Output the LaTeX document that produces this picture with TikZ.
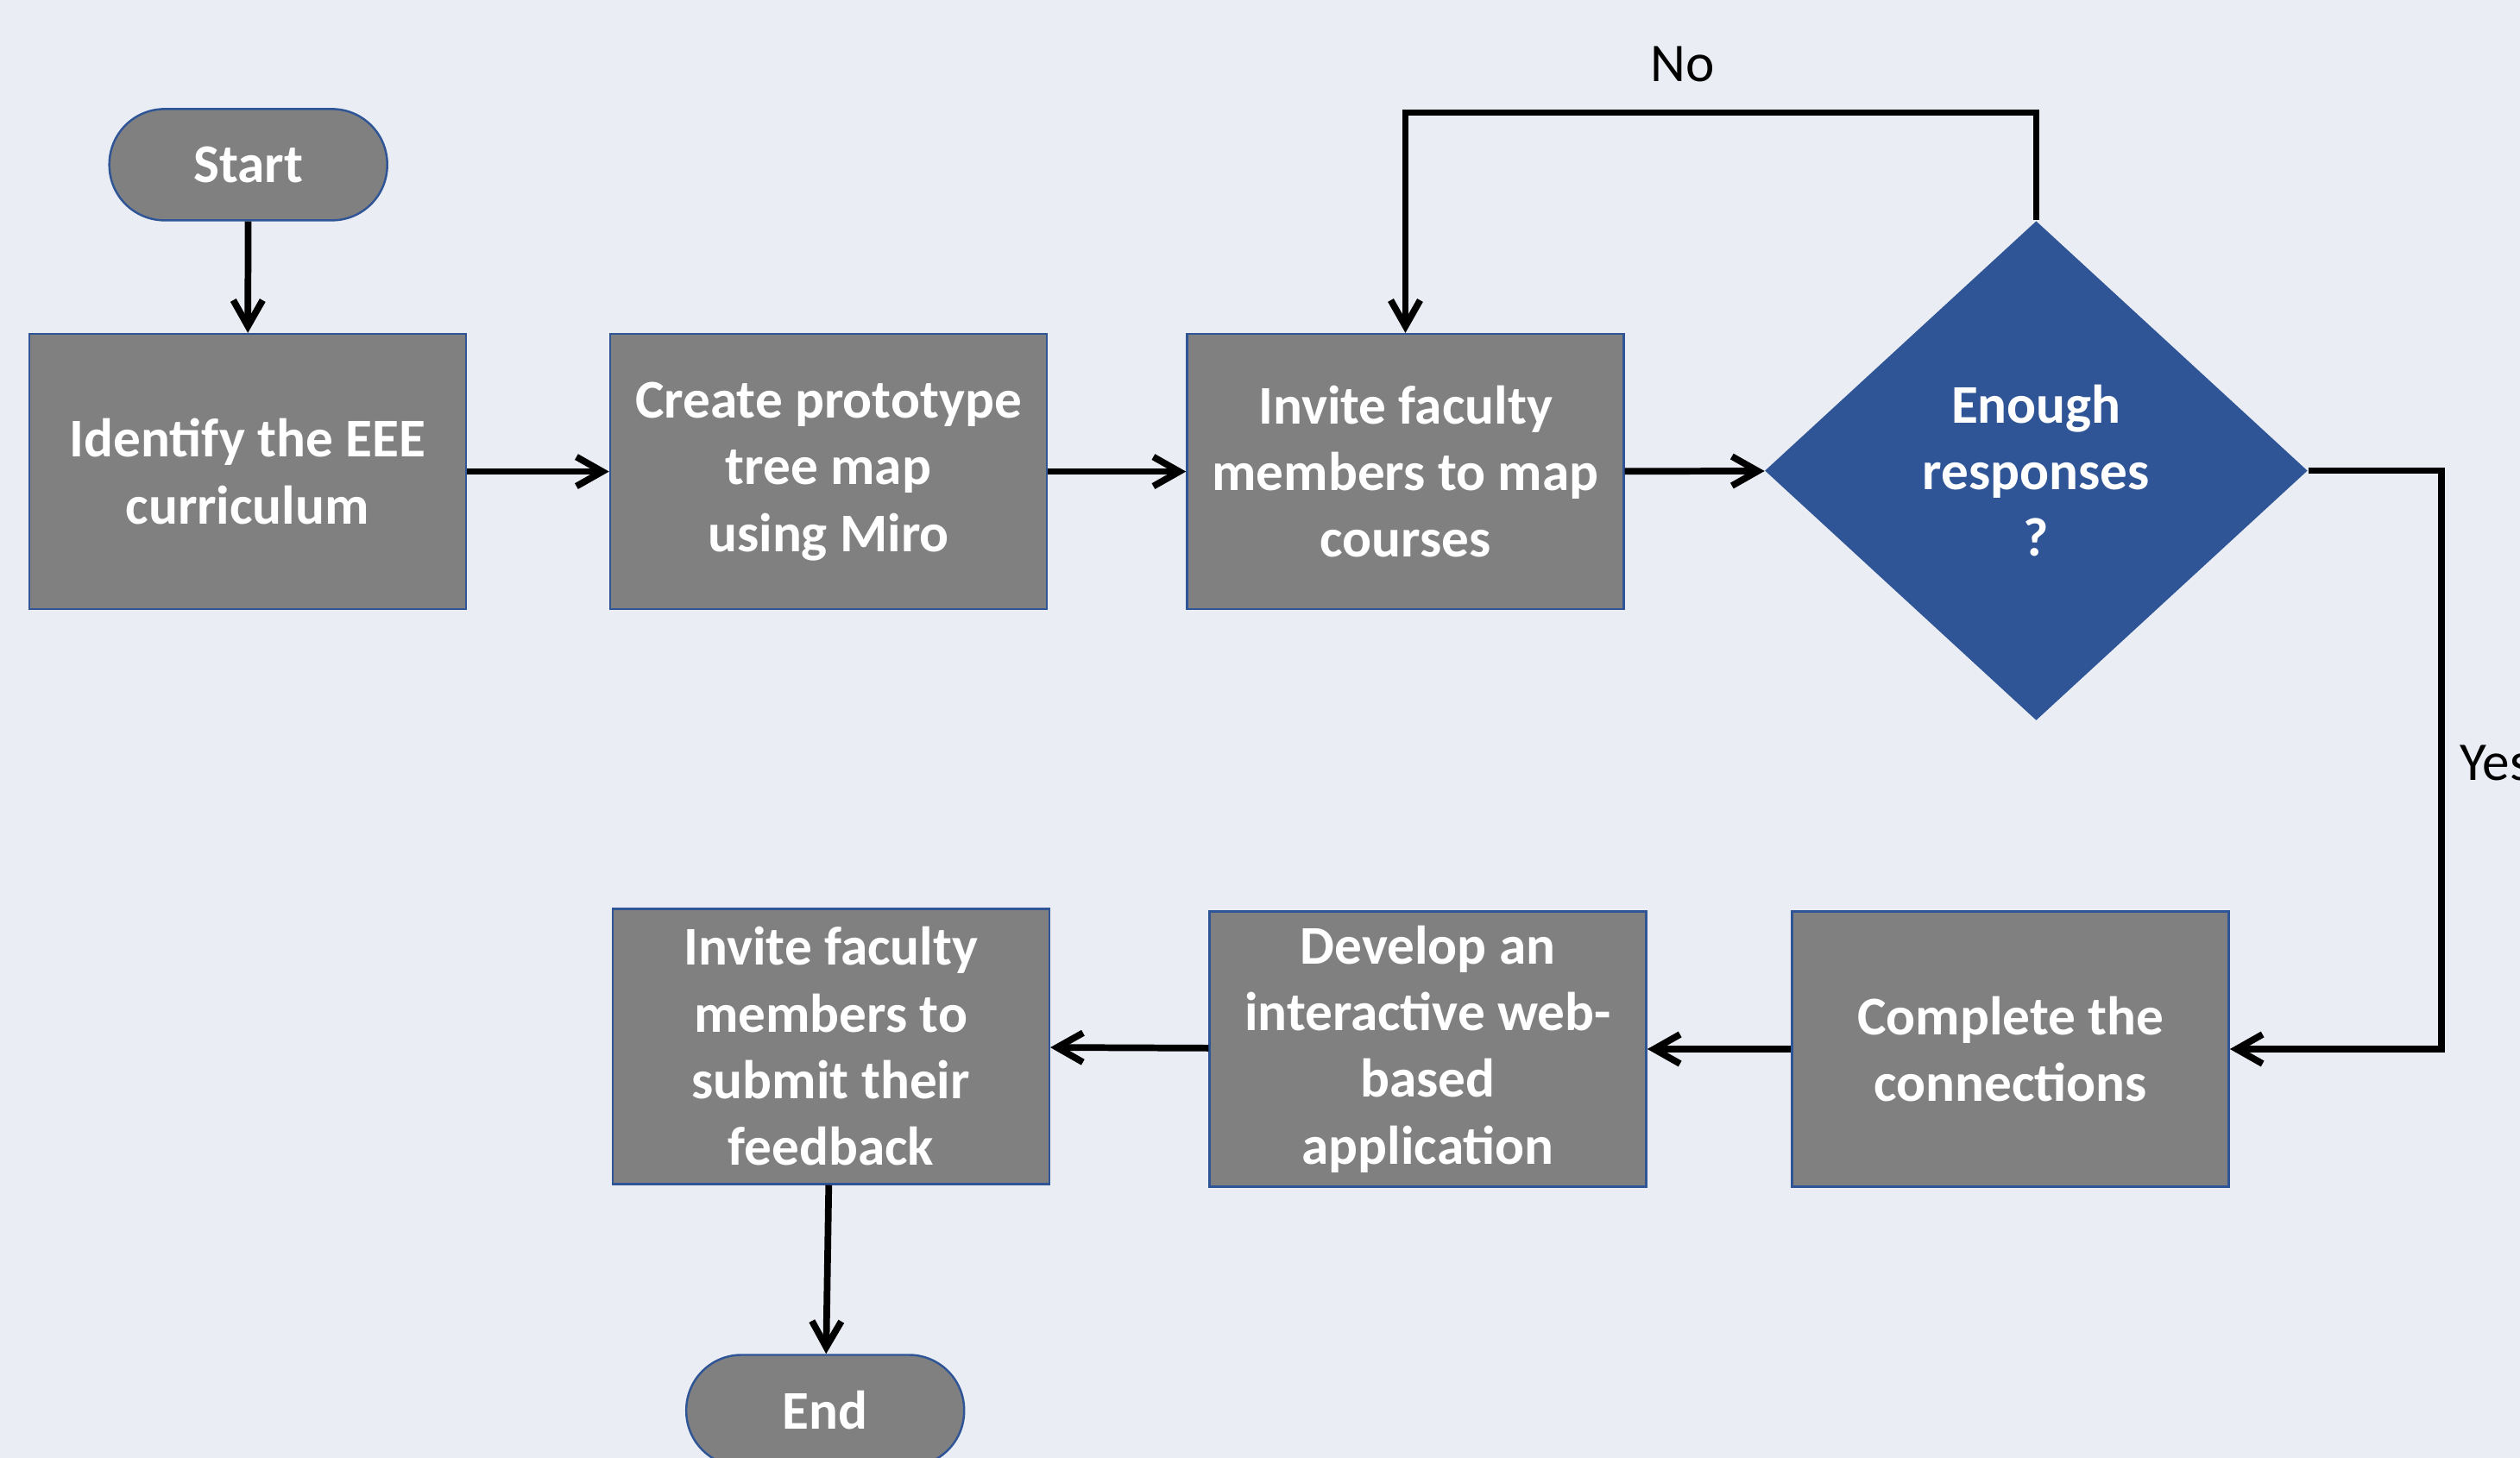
\documentclass[tikz,border=0pt]{standalone}
\usepackage{fontspec}
\setmainfont{Carlito}
\usetikzlibrary{shapes.geometric, arrows.meta}

\definecolor{pagebg}{HTML}{EAEEF4}
\definecolor{boxgray}{HTML}{808080}
\definecolor{edgeblue}{HTML}{2F5597}

\begin{document}
\begin{tikzpicture}[
    every node/.style={font=\fontsize{18}{22}\selectfont},
    procbox/.style={draw=edgeblue, line width=0.7pt, fill=boxgray,
                    minimum width=5.06cm, minimum height=3.19cm, text=white,
                    font=\fontsize{18}{22}\selectfont\bfseries, align=center},
    terminal/.style={draw=edgeblue, line width=0.7pt, fill=boxgray,
                     rounded corners=0.64cm, minimum width=3.22cm,
                     minimum height=1.29cm, text=white,
                     font=\fontsize{18}{22}\selectfont\bfseries},
    decision/.style={diamond, fill=edgeblue, aspect=1.09, inner sep=0pt,
                     minimum width=6.29cm, minimum height=5.79cm, text=white,
                     font=\fontsize{18}{22}\selectfont\bfseries, align=center},
    arrow/.style={-{Straight Barb[length=3mm, width=3.4mm]}, line width=2.2pt},
    branch/.style={text=black}
]

% Page
\useasboundingbox (0, 0) rectangle (29.2, -16.9);
\fill[pagebg] (0, 0) rectangle (29.2, -16.9);

% Top row
\node[terminal] (start) at (2.877, -1.909) {Start};
\node[procbox] (ident) at (2.868, -5.466) {Identify the EEE\\curriculum};
\node[procbox] (proto) at (9.600, -5.466) {Create prototype\\tree map\\using Miro};
\node[procbox] (invite) at (16.285, -5.466) {Invite faculty\\members to map\\courses};
\node[decision] (enough) at (23.594, -5.456) {Enough\\responses\\?};

\draw[arrow] (start) -- (ident);
\draw[arrow] (ident) -- (proto);
\draw[arrow] (proto) -- (invite);
\draw[arrow] (invite) -- (enough);

% No: back to the invitation
\coordinate (looptop) at (16.285, -1.304);
\draw[arrow] (enough.north) |- (looptop) -- (invite.north);
\node[branch] (no) at (19.50, -0.745) {No};

% Yes: on to the bottom row
\coordinate (yesside) at (28.29, -8.0);
\node[branch, anchor=west] (yes) at (28.38, -8.845) {Yes};

% Bottom row
\node[procbox] (complete) at (23.296, -12.160) {Complete the\\connections};
\node[procbox] (webapp) at (16.546, -12.160) {Develop an\\interactive web-\\based\\application};
\node[procbox] (feedback) at (9.628, -12.130) {Invite faculty\\members to\\submit their\\feedback};
\node[terminal] (end) at (9.562, -16.350) {End};

\draw[arrow] (enough.east) -| (yesside) |- (complete.east);
\draw[arrow] (complete) -- (webapp);
\draw[arrow] (webapp) -- (feedback);
\draw[arrow] (feedback) -- (end);

\end{tikzpicture}
\end{document}
